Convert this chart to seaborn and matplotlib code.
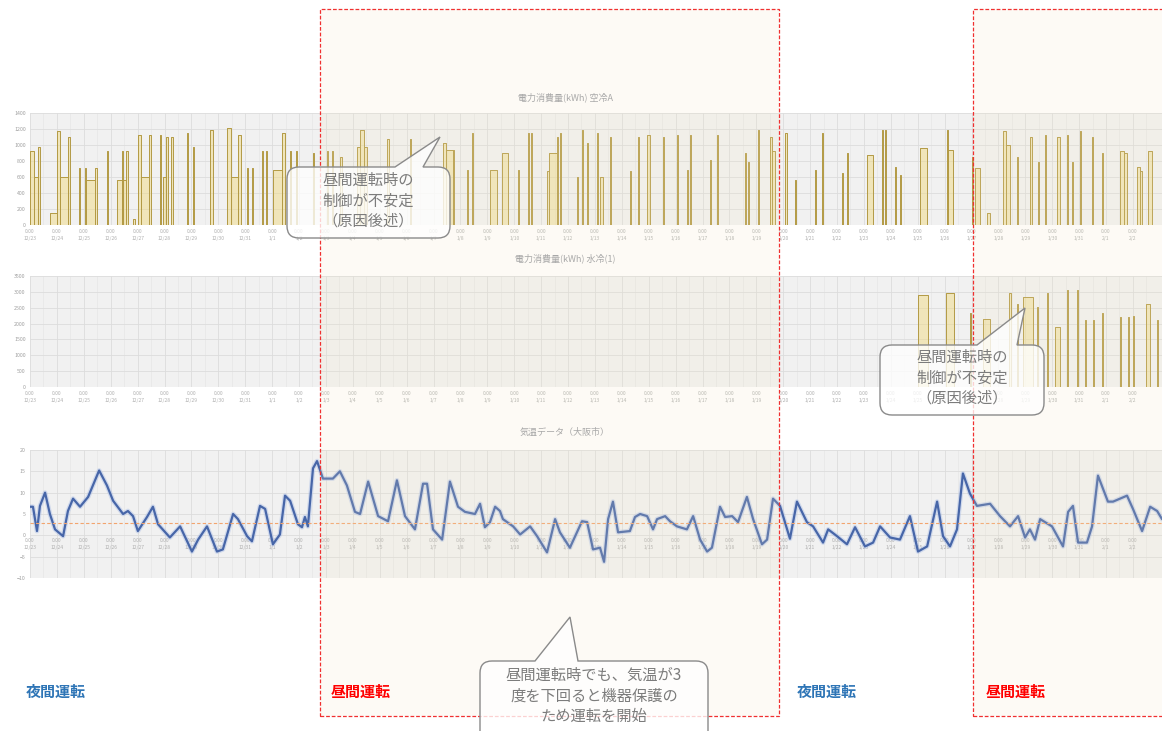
import numpy as np
import pandas as pd
import seaborn as sns
import matplotlib.pyplot as plt
from matplotlib.path import Path
from matplotlib.patches import PathPatch, Rectangle

W, H = 1162, 731

# x axis ticks: one per day, "0:00" + date
tick_dates = ["12/23", "12/24", "12/25", "12/26", "12/27", "12/28", "12/29", "12/30", "12/31",
              "1/1", "1/2", "1/3", "1/4", "1/5", "1/6", "1/7", "1/8", "1/9", "1/10", "1/11",
              "1/12", "1/13", "1/14", "1/15", "1/16", "1/17", "1/18", "1/19", "1/20", "1/21",
              "1/22", "1/23", "1/24", "1/25", "1/26", "1/27", "1/28", "1/29", "1/30", "1/31",
              "2/1", "2/2"]
x_end = 42.08

# panel 1: power (kWh), on/off times in days
p1_on = [0.00, 0.15, 0.30, 0.74, 1.00, 1.12, 1.41, 1.82, 2.04, 2.08, 2.42, 2.86, 3.23, 3.42, 3.46, 3.57,
         3.83, 4.01, 4.13, 4.42, 4.83, 4.94, 5.06, 5.24, 5.84, 6.06, 6.69, 7.32, 7.47, 7.73, 8.07, 8.25,
         8.62, 8.77, 9.03, 9.37, 9.67, 9.89, 10.52, 11.04, 11.23, 11.52, 12.15, 12.27, 12.41, 13.27,
         14.12, 15.35, 15.46, 15.72, 16.24, 16.43, 17.10, 17.54, 18.14, 18.51, 18.62, 19.22, 19.29,
         19.59, 19.70, 20.33, 20.52, 20.70, 21.08, 21.19, 21.56, 22.30, 22.60, 22.93, 23.53, 24.05,
         24.42, 24.53, 25.27, 25.54, 26.58, 26.69, 27.06, 27.51, 27.58, 28.06,
         28.44, 29.18, 29.44, 30.18, 30.37, 31.11, 31.67, 31.78, 32.15, 32.34, 33.08, 34.09, 34.12,
         35.01, 35.13, 35.57, 36.17, 36.28, 36.69, 37.17, 37.47, 37.73, 38.17, 38.54, 38.73, 39.03,
         39.48, 39.85, 40.52, 40.67, 41.15, 41.26, 41.56]
p1_off = [0.15, 0.30, 0.37, 1.00, 1.12, 1.41, 1.49, 1.86, 2.08, 2.42, 2.49, 2.90, 3.42, 3.46, 3.57, 3.64,
          3.90, 4.13, 4.42, 4.50, 4.87, 5.06, 5.13, 5.32, 5.87, 6.10, 6.80, 7.47, 7.73, 7.84, 8.10, 8.29,
          8.66, 8.81, 9.37, 9.48, 9.70, 9.92, 10.56, 11.08, 11.26, 11.60, 12.27, 12.41, 12.53, 13.34,
          14.16, 15.46, 15.72, 15.76, 16.28, 16.47, 17.36, 17.77, 18.18, 18.55, 18.66, 19.29, 19.59,
          19.63, 19.74, 20.37, 20.56, 20.74, 21.11, 21.30, 21.60, 22.34, 22.64, 23.05, 23.57, 24.09,
          24.46, 24.57, 25.31, 25.57, 26.62, 26.73, 27.10, 27.58, 27.69, 28.14,
          28.47, 29.22, 29.48, 30.22, 30.40, 31.33, 31.71, 31.82, 32.19, 32.37, 33.34, 34.12, 34.31,
          35.05, 35.31, 35.68, 36.28, 36.43, 36.72, 37.24, 37.50, 37.76, 38.29, 38.58, 38.77, 39.07,
          39.52, 39.88, 40.67, 40.78, 41.26, 41.34, 41.71]
p1_kwh = [920, 600, 980, 150, 1170, 600, 1100, 710, 710, 560, 710, 920, 560, 920, 560, 920,
          80, 1120, 600, 1120, 1120, 600, 1100, 1100, 1150, 980, 1190, 1210, 600, 1120, 710, 710,
          920, 920, 690, 1150, 920, 920, 900, 920, 920, 850, 980, 1190, 980, 1080,
          1080, 1020, 940, 940, 690, 1150, 690, 900, 690, 1150, 1150, 670, 900,
          1100, 1150, 600, 1190, 1020, 1150, 600, 1100, 670, 1100, 1120, 1100, 1120,
          690, 1120, 810, 1120, 900, 790, 1190, 1100, 920, 1150,
          560, 690, 1150, 650, 900, 880, 1190, 1190, 730, 620, 960, 1190, 940,
          850, 710, 150, 1170, 1000, 850, 1100, 790, 1120, 1100, 1120, 790, 1170,
          1100, 900, 920, 900, 730, 670, 920]

# panel 2: power (kWh), second unit
p2_on = [33.01, 34.05, 34.94, 35.42, 36.39, 36.69, 36.91, 37.43, 37.80, 38.10, 38.54, 38.92, 39.21,
         39.51, 39.85, 40.52, 40.81, 41.00, 41.48, 41.89]
p2_off = [33.38, 34.35, 34.98, 35.68, 36.47, 36.72, 37.28, 37.47, 37.84, 38.29, 38.58, 38.96, 39.25,
          39.55, 39.88, 40.55, 40.85, 41.04, 41.64, 41.93]
p2_kwh = [2900, 2950, 2320, 2150, 2950, 2630, 2850, 2530, 2950, 1900, 3050, 3050, 2110,
          2110, 2320, 2220, 2220, 2250, 2630, 2110]

# panel 3: air temperature
temp_day = [0.00, 0.11, 0.26, 0.37, 0.56, 0.74, 0.93, 1.23, 1.41, 1.60,
            1.86, 2.16, 2.34, 2.57, 2.86, 3.09, 3.46, 3.64, 3.83, 4.01,
            4.35, 4.57, 4.76, 5.20, 5.58, 6.02, 6.25, 6.58, 6.95, 7.17,
            7.55, 7.73, 8.07, 8.25, 8.55, 8.74, 9.03, 9.29, 9.48, 9.67,
            9.96, 10.11, 10.22, 10.33, 10.52, 10.67, 10.89, 11.26, 11.52, 11.78,
            12.08, 12.27, 12.57, 12.94, 13.31, 13.64, 13.94, 14.31, 14.61, 14.76,
            14.98, 15.32, 15.61, 15.91, 16.17, 16.54, 16.73, 16.91, 17.10, 17.29,
            17.47, 17.58, 17.96, 18.22, 18.59, 18.85, 19.22, 19.52, 19.70, 20.07,
            20.52, 20.71, 20.93, 21.19, 21.34, 21.49, 21.67, 21.86, 22.30, 22.49,
            22.68, 22.94, 23.16, 23.31, 23.61, 23.79, 24.05, 24.42, 24.65, 24.91,
            25.17, 25.35, 25.65, 25.84, 26.10, 26.32, 26.65, 26.88, 27.21, 27.40,
            27.62, 27.88, 28.25, 28.51, 28.88, 29.11, 29.48, 29.67, 30.00, 30.37,
            30.67, 31.04, 31.34, 31.60, 31.97, 32.34, 32.71, 33.01, 33.35, 33.72,
            33.94, 34.20, 34.46, 34.68, 34.94, 35.20, 35.69, 36.06, 36.43, 36.73,
            36.99, 37.17, 37.36, 37.55, 37.99, 38.40, 38.59, 38.77, 38.96, 39.29,
            39.48, 39.70, 40.07, 40.26, 40.78, 41.00, 41.34, 41.64, 41.90, 42.08]
temp_c = [6.7, 6.7, 1.0, 6.9, 10.0, 5.0, 1.4, -0.2, 5.7, 8.6,
          6.7, 9.0, 11.7, 15.2, 11.7, 8.1, 5.0, 5.7, 4.5, 1.0,
          4.3, 6.7, 2.6, -0.5, 2.1, -3.8, -1.0, 2.1, -3.8, -3.3,
          5.0, 3.8, -0.2, -1.4, 6.9, 6.2, -2.1, 0.2, 9.3, 8.1,
          2.6, 1.9, 4.3, 2.1, 15.7, 17.4, 13.3, 13.3, 15.0, 11.7,
          5.5, 5.0, 12.6, 4.5, 3.3, 12.9, 4.5, 1.4, 12.1, 12.1,
          1.4, -1.0, 12.6, 6.7, 5.5, 5.0, 7.4, 1.9, 3.1, 6.7,
          5.7, 3.8, 2.1, 0.2, 2.1, -0.2, -4.0, 3.8, 0.7, -2.9,
          3.3, 3.1, -3.3, -2.9, -6.2, 3.8, 7.9, 0.7, 1.0, 4.3,
          5.0, 4.5, 1.4, 3.8, 4.5, 3.3, 2.1, 1.4, 4.5, -1.0,
          -3.8, -2.9, 6.7, 4.3, 4.5, 3.1, 9.0, 3.8, -2.1, -1.0,
          8.6, 6.9, -0.8, 7.9, 3.1, 2.1, -1.7, 1.4, -0.2, -2.1,
          1.9, -2.6, -1.7, 2.1, -0.5, -1.0, 4.5, -3.8, -2.6, 7.9,
          -0.2, -2.6, 1.4, 14.5, 9.8, 6.9, 7.4, 4.5, 2.1, 4.5,
          -0.5, 1.4, -1.0, 3.8, 2.1, -2.6, 5.5, 6.9, -1.7, -1.7,
          2.1, 14.0, 7.9, 7.9, 9.3, 6.2, 1.0, 6.7, 5.7, 3.8]
temp_limit = 3

titles = ["電力消費量(kWh) 空冷A", "電力消費量(kWh) 水冷(1)", "気温データ（大阪市）"]
note_unstable = "昼間運転時の\n制御が不安定\n（原因後述）"
note_cold = "昼間運転時でも、気温が3\n度を下回ると機器保護の\nため運転を開始"
mode_labels = ["夜間運転", "昼間運転", "夜間運転", "昼間運転"]


def steps(on, off, val):
    xs, ys = [0.0], [0.0]
    for a, b, v in zip(on, off, val):
        xs += [a, a, b, b]
        ys += [0, v, v, 0]
    xs.append(x_end)
    ys.append(0)
    return pd.DataFrame({"day": xs, "kwh": ys})


sns.set_style("white")
plt.rcParams["font.family"] = ["Noto Sans CJK JP", "DejaVu Sans"]

fig = plt.figure(figsize=(W / 100, H / 100), dpi=100)


def px_axes(top, bottom):
    return fig.add_axes([30 / W, 1 - bottom / H, 1 - 30 / W, (bottom - top) / H])


def style(ax):
    ax.set_facecolor("#f1f1f1")
    ax.set_xlim(0, x_end)
    for s in ax.spines.values():
        s.set_visible(False)
    ax.set_xticks(range(len(tick_dates)))
    ax.set_xticks(np.arange(0.5, len(tick_dates), 1), minor=True)
    ax.set_xticklabels(["0:00\n" + d for d in tick_dates], fontsize=3.6, color="#b0b0b0",
                       linespacing=1.5)
    ax.tick_params(axis="both", which="both", length=0, pad=3)
    ax.tick_params(axis="y", labelsize=3.8, labelcolor="#a0a0a0")
    ax.grid(True, which="major", color="#dcdcdc", lw=0.6)
    ax.grid(True, which="minor", axis="x", color="#e6e6e6", lw=0.5)
    ax.set_xlabel("")
    ax.set_ylabel("")


# panel 1
ax1 = px_axes(113, 225)
d1 = steps(p1_on, p1_off, p1_kwh)
ax1.fill_between(d1["day"], d1["kwh"], color="#f0db85", alpha=0.5, lw=0)
sns.lineplot(data=d1, x="day", y="kwh", ax=ax1, sort=False, estimator=None,
             color="#b39a45", lw=0.7)
style(ax1)
ax1.set_ylim(0, 1400)
ax1.set_yticks(range(0, 1401, 200))

# panel 2
ax2 = px_axes(276, 387)
d2 = steps(p2_on, p2_off, p2_kwh)
ax2.fill_between(d2["day"], d2["kwh"], color="#f0db85", alpha=0.5, lw=0)
sns.lineplot(data=d2, x="day", y="kwh", ax=ax2, sort=False, estimator=None,
             color="#b39a45", lw=0.7)
style(ax2)
ax2.set_ylim(0, 3500)
ax2.set_yticks(range(0, 3501, 500))

# panel 3
ax3 = px_axes(450, 578)
dt = pd.DataFrame({"day": temp_day, "temp": temp_c})
sns.lineplot(data=dt, x="day", y="temp", ax=ax3, color="#a9bde6", lw=3.4, alpha=0.45)
sns.lineplot(data=dt, x="day", y="temp", ax=ax3, color="#4766a8", lw=1.6)
ax3.axhline(temp_limit, color="#f2a46e", lw=0.8, ls=(0, (3, 2)))
ax3.set_ylim(-10, 20)
ax3.spines["bottom"].set_position(("data", 0))
style(ax3)
ax3.set_ylim(-10, 20)
ax3.set_yticks(range(-10, 21, 5))
ax3.tick_params(axis="x", pad=2)

for t, y in zip(titles, [97, 258, 432]):
    fig.text(565 / W, 1 - y / H, t, ha="center", va="center", fontsize=6.5, color="#a8a8a8")


def fx(x):
    return x / W


def fy(y):
    return 1 - y / H


# day-mode zones
for x0, x1 in [(320, 779), (973, 1175)]:
    fig.add_artist(Rectangle((fx(x0), fy(716)), fx(x1) - fx(x0), fy(9) - fy(716),
                             transform=fig.transFigure, facecolor="#f3e6c2", alpha=0.16,
                             edgecolor="none", zorder=3))
    fig.add_artist(Rectangle((fx(x0), fy(716)), fx(x1) - fx(x0), fy(9) - fy(716),
                             transform=fig.transFigure, facecolor="none", edgecolor="#f03030",
                             lw=0.9, ls=(0, (3, 1.5)), zorder=4))


def callout(x0, y0, x1, y1, bx0, bx1, tx, ty, text, ty_text, r=12):
    pts = [(x0 + r, y0), (bx0, y0), (tx, ty), (bx1, y0), (x1 - r, y0),
           (x1, y0), (x1, y0 + r), (x1, y1 - r), (x1, y1), (x1 - r, y1),
           (x0 + r, y1), (x0, y1), (x0, y1 - r), (x0, y0 + r), (x0, y0), (x0 + r, y0), (x0 + r, y0)]
    codes = [Path.MOVETO, Path.LINETO, Path.LINETO, Path.LINETO, Path.LINETO,
             Path.CURVE3, Path.CURVE3, Path.LINETO, Path.CURVE3, Path.CURVE3,
             Path.LINETO, Path.CURVE3, Path.CURVE3, Path.LINETO, Path.CURVE3, Path.CURVE3,
             Path.CLOSEPOLY]
    path = Path([(fx(a), fy(b)) for a, b in pts], codes)
    fig.add_artist(PathPatch(path, transform=fig.transFigure, facecolor=(1, 1, 1, 0.78),
                             edgecolor="#8a8a8a", lw=1.0, zorder=5))
    fig.text(fx((x0 + x1) / 2), fy(ty_text), text,
             ha="center", va="center", fontsize=11, color="#7c7c7c", linespacing=1.25, zorder=6)


callout(287, 167, 450, 238, 395, 423, 440, 137, note_unstable, 201)
callout(880, 345, 1044, 415, 977, 1017, 1025, 308, note_unstable, 378)
callout(480, 661, 708, 745, 535, 578, 570, 617, note_cold, 696)

for lab, x in zip(mode_labels, [26, 331, 797, 986]):
    fig.text(fx(x), fy(692), lab, ha="left", va="center", fontsize=10.8, fontweight="bold",
             color="#2e75b6" if lab == "夜間運転" else "#ff0000")

fig.savefig("out.png", dpi=100)
